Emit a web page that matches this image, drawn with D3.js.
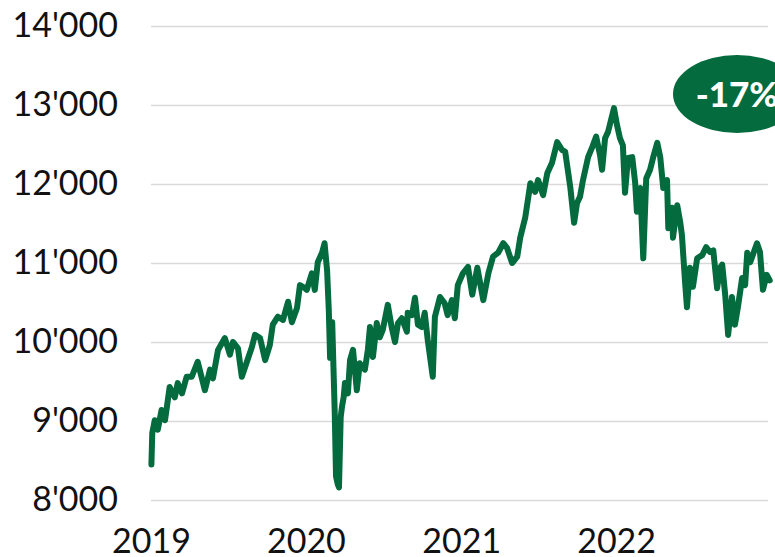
<!DOCTYPE html>
<html>
<head>
<meta charset="utf-8">
<script src="https://cdn.jsdelivr.net/npm/d3@7"></script>
<style>
  html, body { margin: 0; padding: 0; background: #fff; overflow: hidden; }
  svg { display: block; font-family: "Century Gothic", Lato, sans-serif; }
</style>
</head>
<body>
<div id="chart"></div>
<script>
// index level (dates and values kept apart)
const dates = [
  "2019-01-02","2019-01-04","2019-01-10","2019-01-17","2019-01-26","2019-02-03","2019-02-14","2019-02-26",
  "2019-03-05","2019-03-15","2019-03-26","2019-04-07","2019-04-21","2019-05-08","2019-05-20","2019-05-27",
  "2019-06-08","2019-06-24","2019-07-06","2019-07-13","2019-07-25","2019-08-03","2019-08-15","2019-08-27",
  "2019-09-03","2019-09-15","2019-09-27","2019-10-08","2019-10-15","2019-10-27","2019-11-08","2019-11-20",
  "2019-11-29","2019-12-11","2019-12-18","2019-12-30",
  "2020-01-03","2020-01-15","2020-01-22","2020-01-29","2020-02-08","2020-02-14","2020-02-20","2020-02-24",
  "2020-02-27","2020-03-03","2020-03-09","2020-03-12","2020-03-16","2020-03-19","2020-03-23","2020-03-26",
  "2020-03-30","2020-04-02","2020-04-09","2020-04-14","2020-04-21","2020-04-30","2020-05-07","2020-05-19",
  "2020-05-26","2020-05-31","2020-06-07","2020-06-16","2020-06-23","2020-06-30","2020-07-12","2020-07-21",
  "2020-07-29","2020-08-05","2020-08-14","2020-08-26","2020-08-28","2020-09-07","2020-09-14","2020-09-21",
  "2020-09-30","2020-10-07","2020-10-14","2020-10-26","2020-10-31","2020-11-12","2020-11-23","2020-11-30",
  "2020-12-10","2020-12-17","2020-12-24",
  "2021-01-05","2021-01-17","2021-01-27","2021-02-08","2021-02-22","2021-03-06","2021-03-17","2021-03-29",
  "2021-04-10","2021-04-19","2021-05-01","2021-05-13","2021-05-20","2021-06-01","2021-06-13","2021-06-24",
  "2021-07-01","2021-07-13","2021-07-23","2021-08-03","2021-08-15","2021-08-27","2021-09-03","2021-09-15",
  "2021-09-24","2021-10-01","2021-10-08","2021-10-15","2021-10-27","2021-11-06","2021-11-15","2021-11-24",
  "2021-11-29","2021-12-06","2021-12-13","2021-12-27",
  "2022-01-03","2022-01-10","2022-01-17","2022-01-22","2022-01-29","2022-02-08","2022-02-15","2022-02-19",
  "2022-02-27","2022-03-06","2022-03-13","2022-03-22","2022-03-29","2022-04-08","2022-04-15","2022-04-22",
  "2022-05-01","2022-05-04","2022-05-13","2022-05-15","2022-05-25","2022-06-01","2022-06-05","2022-06-13",
  "2022-06-17","2022-06-24","2022-07-01","2022-07-11","2022-07-23","2022-08-01","2022-08-10","2022-08-18",
  "2022-08-27","2022-09-03","2022-09-08","2022-09-15","2022-09-22","2022-10-01","2022-10-08","2022-10-15",
  "2022-10-25","2022-11-01","2022-11-06","2022-11-13","2022-11-29","2022-12-06","2022-12-13","2022-12-22",
  "2022-12-29"
];
const values = [
  8450, 8850, 9010, 8890, 9140, 9010, 9430, 9300,
  9480, 9350, 9560, 9560, 9750, 9390, 9650, 9540,
  9900, 10050, 9840, 10000, 9920, 9560, 9750, 9940,
  10090, 10050, 9770, 9960, 10220, 10320, 10280, 10510,
  10250, 10430, 10720, 10680,
  10660, 10870, 10660, 11010, 11130, 11250, 10900, 10400,
  9800, 10250, 9100, 8300, 8200, 8160, 9050, 9180,
  9300, 9480, 9350, 9770, 9900, 9390, 9730, 9650,
  9900, 10190, 9810, 10240, 10060, 10150, 10470, 10190,
  10000, 10240, 10300, 10130, 10370, 10340, 10560, 10220,
  10190, 10370, 10030, 9560, 10320, 10570, 10490, 10340,
  10530, 10300, 10720,
  10870, 10950, 10600, 10940, 10530, 10870, 11080, 11130,
  11250, 11190, 11000, 11080, 11320, 11580, 12010, 11900,
  12050, 11860, 12140, 12270, 12530, 12430, 12410, 11960,
  11510, 11760, 11840, 12050, 12340, 12470, 12600, 12370,
  12180, 12580, 12660, 12960,
  12750, 12580, 12490, 11890, 12330, 12340, 12010, 11650,
  11950, 11060, 12070, 12180, 12330, 12520, 12340, 11950,
  12050, 11440, 11700, 11320, 11730, 11520, 11360, 10720,
  10440, 10940, 10700, 11060, 11100, 11200, 11140, 11160,
  10680, 10940, 10980, 10600, 10090, 10570, 10220, 10440,
  10810, 10720, 11130, 11010, 11250, 11140, 10660, 10850,
  10780
];
const yTicks = [8000, 9000, 10000, 11000, 12000, 13000, 14000];
const yearTicks = ["2019-01-01", "2020-01-01", "2021-01-01", "2022-01-01"];
const badgeText = "-17%";

const width = 775, height = 557;
const margin = {top: 26, right: 4, bottom: 57, left: 151};
const green = "#036b3d";

const parse = d3.utcParse("%Y-%m-%d");
const data = dates.map((d, i) => ({date: parse(d), value: values[i]}));

const svg = d3.select("#chart")
  .append("svg")
  .attr("width", width)
  .attr("height", height);

// x runs from the start of 2019 to the end of 2022
const x = d3.scaleUtc()
  .domain([parse("2019-01-01"), parse("2023-01-01")])
  .range([margin.left, width - margin.right]);

const y = d3.scaleLinear()
  .domain([8000, 14000])
  .range([height - margin.bottom, margin.top]);

const fmt = d3.formatLocale({decimal: ".", thousands: "'", grouping: [3], currency: ["", ""]}).format(",d");

// gridlines + y labels
const yAxis = svg.append("g")
  .attr("transform", `translate(${margin.left},0)`)
  .call(d3.axisLeft(y)
    .tickValues(yTicks)
    .tickFormat(fmt)
    .tickSize(-(768 - margin.left))
    .tickPadding(33));
yAxis.select(".domain").remove();
yAxis.selectAll(".tick line").attr("stroke", "#d9d9d9").attr("stroke-width", 1.5);
yAxis.selectAll(".tick text")
  .attr("font-size", "34px")
  .attr("fill", "#111")
  .attr("font-family", "\"Century Gothic\", Lato, sans-serif");

// year labels at the bottom
const xAxis = svg.append("g")
  .attr("transform", `translate(0,${height - margin.bottom})`)
  .call(d3.axisBottom(x)
    .tickValues(yearTicks.map(parse))
    .tickFormat(d3.utcFormat("%Y"))
    .tickSize(0)
    .tickPadding(29));
xAxis.select(".domain").remove();
xAxis.selectAll(".tick text")
  .attr("font-size", "34px")
  .attr("fill", "#111")
  .attr("font-family", "\"Century Gothic\", Lato, sans-serif");

// the index line
const line = d3.line()
  .x(d => x(d.date))
  .y(d => y(d.value));

svg.append("path")
  .datum(data)
  .attr("fill", "none")
  .attr("stroke", green)
  .attr("stroke-width", 6)
  .attr("stroke-linejoin", "round")
  .attr("stroke-linecap", "round")
  .attr("d", line);

// performance badge, runs off the right edge
const badge = svg.append("g").attr("transform", "translate(737,94)");
badge.append("ellipse")
  .attr("rx", 64)
  .attr("ry", 39)
  .attr("fill", green);
badge.append("text")
  .attr("text-anchor", "middle")
  .attr("dy", "0.36em")
  .attr("fill", "#fff")
  .attr("font-size", "35px")
  .attr("font-weight", "900")
  .text(badgeText);
</script>
</body>
</html>
